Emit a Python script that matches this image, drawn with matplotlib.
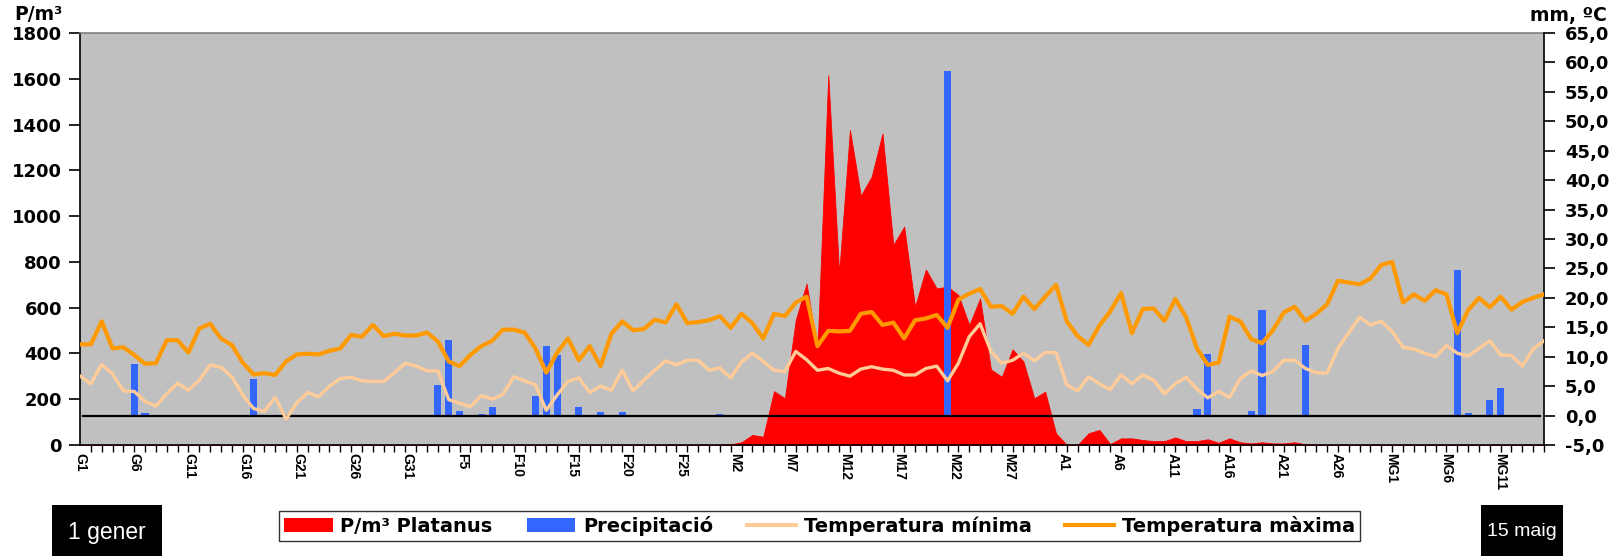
import numpy as np
import matplotlib
matplotlib.use("Agg")
import matplotlib.pyplot as plt
from matplotlib.ticker import MultipleLocator, FixedLocator, FuncFormatter
from matplotlib.patches import Patch, Rectangle
from matplotlib.lines import Line2D

# ---------------- data (1 gener .. 15 maig, daily) ----------------
tick_labels = ["G1", "G6", "G11", "G16", "G21", "G26", "G31", "F5", "F10", "F15",
               "F20", "F25", "M2", "M7", "M12", "M17", "M22", "M27", "A1", "A6",
               "A11", "A16", "A21", "A26", "MG1", "MG6", "MG11"]

temp_max = [12.1, 12.1, 16.0, 11.4, 11.6, 10.3, 8.8, 8.9, 12.8, 12.8,
            10.7, 14.8, 15.6, 13.1, 12.0, 9.0, 7.0, 7.2, 6.9, 9.2,
            10.4, 10.5, 10.4, 11.0, 11.4, 13.7, 13.4, 15.4, 13.5, 13.9,
            13.6, 13.6, 14.1, 12.6, 9.2, 8.4, 10.3, 11.8, 12.7, 14.6,
            14.6, 14.1, 11.4, 7.3, 10.7, 13.1, 9.4, 11.8, 8.4, 13.9,
            16.0, 14.5, 14.7, 16.3, 15.8, 18.9, 15.7, 15.9, 16.2, 16.9,
            14.9, 17.3, 15.7, 13.1, 17.3, 16.9, 19.2, 20.2, 11.8, 14.4,
            14.3, 14.4, 17.3, 17.6, 15.4, 15.8, 13.1, 16.2, 16.5, 17.1,
            14.9, 19.7, 20.7, 21.5, 18.5, 18.6, 17.3, 20.2, 18.1, 20.2,
            22.2, 16.0, 13.5, 12.0, 15.3, 17.7, 20.8, 14.0, 18.1, 18.2,
            16.1, 19.8, 16.7, 11.4, 8.6, 9.0, 16.8, 16.0, 13.0, 12.3,
            14.5, 17.5, 18.5, 16.1, 17.3, 18.9, 22.9, 22.6, 22.3, 23.3,
            25.6, 26.1, 19.2, 20.6, 19.5, 21.3, 20.6, 14.0, 17.9, 20.0,
            18.4, 20.2, 18.0, 19.3, 20.0, 20.6]

temp_min = [6.7, 5.4, 8.7, 7.1, 4.2, 4.1, 2.4, 1.6, 3.7, 5.5,
            4.3, 6.0, 8.6, 8.2, 6.6, 3.5, 1.2, 0.7, 3.1, -0.6,
            2.2, 3.9, 3.2, 5.0, 6.3, 6.5, 5.9, 5.8, 5.8, 7.3,
            8.9, 8.4, 7.6, 7.6, 2.7, 2.1, 1.5, 3.4, 2.8, 3.6,
            6.6, 5.9, 5.2, 0.9, 3.5, 5.8, 6.4, 3.9, 5.0, 4.3,
            7.7, 4.2, 6.0, 7.7, 9.3, 8.6, 9.4, 9.4, 7.7, 8.1,
            6.4, 9.1, 10.6, 9.2, 7.7, 7.5, 10.9, 9.5, 7.7, 8.0,
            7.2, 6.7, 7.9, 8.3, 7.9, 7.7, 6.9, 6.9, 8.0, 8.4,
            5.9, 8.9, 13.4, 15.6, 10.9, 8.9, 9.4, 10.6, 9.3, 10.7,
            10.7, 5.2, 4.2, 6.6, 5.4, 4.4, 6.9, 5.4, 6.9, 6.0,
            3.7, 5.4, 6.5, 4.5, 3.0, 4.1, 3.1, 6.3, 7.6, 6.8,
            7.5, 9.4, 9.4, 8.0, 7.3, 7.2, 11.4, 14.1, 16.7, 15.4,
            16.0, 14.3, 11.6, 11.3, 10.6, 10.0, 11.9, 10.6, 10.1, 11.4,
            12.7, 10.3, 10.2, 8.4, 11.3, 12.7]

precip = [0, 0, 0, 0, 0, 8.8, 0.4, 0, 0, 0,
          0, 0, 0, 0, 0, 0, 6.2, 0, 0, 0,
          0, 0, 0, 0, 0, 0, 0, 0, 0, 0,
          0, 0, 0, 5.2, 12.9, 0.8, 0, 0.3, 1.4, 0,
          0, 0, 3.4, 11.8, 10.3, 0, 1.4, 0, 0.6, 0,
          0.6, 0, 0, 0, 0, 0, 0, 0, 0, 0.3,
          0, 0, 0, 0, 0, 0, 0, 0, 0, 0,
          0, 0, 0, 0, 0, 0, 0, 0, 0, 0,
          58.6, 0, 0, 0, 0, 0, 0, 0, 0, 0,
          0, 0, 0, 0, 0, 0, 0, 0, 0, 0,
          0, 0, 0, 1.1, 10.4, 0, 0, 0, 0.8, 17.9,
          0, 0, 0, 12.0, 0, 0, 0, 0, 0, 0,
          0, 0, 0, 0, 0, 0, 0, 24.7, 0.4, 0,
          2.6, 4.7, 0, 0, 0, 0]

pollen = [0] * 60 + [3, 12, 44, 36, 235, 204, 546, 705, 410, 1616,
                     750, 1376, 1089, 1172, 1361, 874, 954, 604, 767, 684,
                     692, 655, 524, 640, 330, 298, 418, 364, 204, 233,
                     51, 0, 0, 51, 66, 4, 29, 29, 22, 17,
                     17, 33, 17, 17, 25, 10, 29, 12, 7, 12,
                     7, 7, 12, 3] + [0] * 22

n = len(temp_max)
x = np.arange(n)

# ---------------- figure ----------------
W, H = 1616, 556
fig = plt.figure(figsize=(W / 100, H / 100), dpi=100)
fig.patch.set_facecolor("white")
ax = fig.add_axes([80 / W, (H - 445) / H, 1464 / W, 412 / H])
ax.set_facecolor("#C0C0C0")

BOLD = dict(family="DejaVu Sans", weight="bold")
TICKSIZE = 13

# pollen area (left axis)
ax.fill_between(x, 0, pollen, color="#FF0000", linewidth=0.6, edgecolor="#FF0000", zorder=2)
ax.set_xlim(0, n - 1)
ax.set_ylim(0, 1800)
ax.yaxis.set_major_locator(MultipleLocator(200))
ax.yaxis.set_major_formatter(FuncFormatter(lambda v, p: f"{int(v)}"))
ax.tick_params(axis="y", which="major", direction="out", length=8, width=1.2,
               pad=5, labelsize=TICKSIZE, colors="black")
for lab in ax.get_yticklabels():
    lab.set_fontweight("bold")

# x ticks: marks every day, labels every 5 days
ax.xaxis.set_minor_locator(FixedLocator(x))
label_pos = np.arange(len(tick_labels)) * 5 * (n - 1) / (n - 2)
ax.xaxis.set_major_locator(FixedLocator(label_pos))
ax.set_xticklabels(tick_labels, rotation=-90, fontsize=10,
                   fontfamily="Liberation Sans", fontweight="bold")
ax.tick_params(axis="x", which="minor", direction="out", length=5, width=1)
ax.tick_params(axis="x", which="major", length=0, pad=6)

for s in ["left", "bottom"]:
    ax.spines[s].set_color("black")
    ax.spines[s].set_linewidth(1.2)
ax.spines["top"].set_color("#808080")
ax.spines["top"].set_linewidth(1.2)
ax.spines["right"].set_visible(False)

# right axis: precipitation + temperatures
ax2 = ax.twinx()
ax2.set_ylim(-5, 65)
ax2.bar(x, precip, width=0.66, color="#3366FF", zorder=2)
ax2.axhline(0, color="black", linewidth=1.6, zorder=2.5, xmin=0.002, xmax=0.997)
ax2.plot(x, temp_min, color="#FFCC99", linewidth=2.4, zorder=3,
         solid_joinstyle="round")
ax2.plot(x, temp_max, color="#FF9900", linewidth=3.0, zorder=4,
         solid_joinstyle="round")
ax2.yaxis.set_major_locator(MultipleLocator(5))
ax2.yaxis.set_major_formatter(FuncFormatter(lambda v, p: f"{v:.1f}".replace(".", ",")))
ax2.tick_params(axis="y", direction="out", length=8, width=1.2, pad=7,
                labelsize=TICKSIZE, colors="black")
for lab in ax2.get_yticklabels():
    lab.set_fontweight("bold")
for s in ["left", "top", "bottom"]:
    ax2.spines[s].set_visible(False)
ax2.spines["right"].set_color("black")
ax2.spines["right"].set_linewidth(1.2)

# axis titles
fig.text(38 / W, 1 - 15 / H, "P/m³", ha="center", va="center", fontsize=13.5, **BOLD)
fig.text(1568 / W, 1 - 16 / H, "mm, ºC", ha="center", va="center", fontsize=13.5, **BOLD)

# legend
handles = [Patch(facecolor="#FF0000", edgecolor="none"),
           Patch(facecolor="#3366FF", edgecolor="none"),
           Line2D([], [], color="#FFCC99", linewidth=3),
           Line2D([], [], color="#FF9900", linewidth=3)]
labels = ["P/m³ Platanus", "Precipitació", "Temperatura mínima", "Temperatura màxima"]
leg = fig.legend(handles, labels, loc="center", bbox_to_anchor=(0.5071, 1 - 526 / H),
                 ncol=4, frameon=True, fancybox=False, shadow=False,
                 prop=dict(family="DejaVu Sans", weight="bold", size=14),
                 handlelength=2.5, handleheight=0.7, handletextpad=0.4,
                 columnspacing=1.75, borderpad=0.25, borderaxespad=0)
leg.get_frame().set_edgecolor("black")
leg.get_frame().set_linewidth(1.0)

# date boxes
boxes = [(52, 162, "1 gener", 16.5), (1481, 1563, "15 maig", 14)]
for (x0, x1, txt, fs) in boxes:
    fig.add_artist(Rectangle((x0 / W, 0), (x1 - x0) / W, 51 / H, transform=fig.transFigure,
                             facecolor="black", edgecolor="none"))
    fig.text((x0 + x1) / 2 / W, 24 / H, txt, ha="center", va="center", color="white",
             fontsize=fs, family="Liberation Sans")

fig.savefig("out.png", dpi=100, facecolor="white")
